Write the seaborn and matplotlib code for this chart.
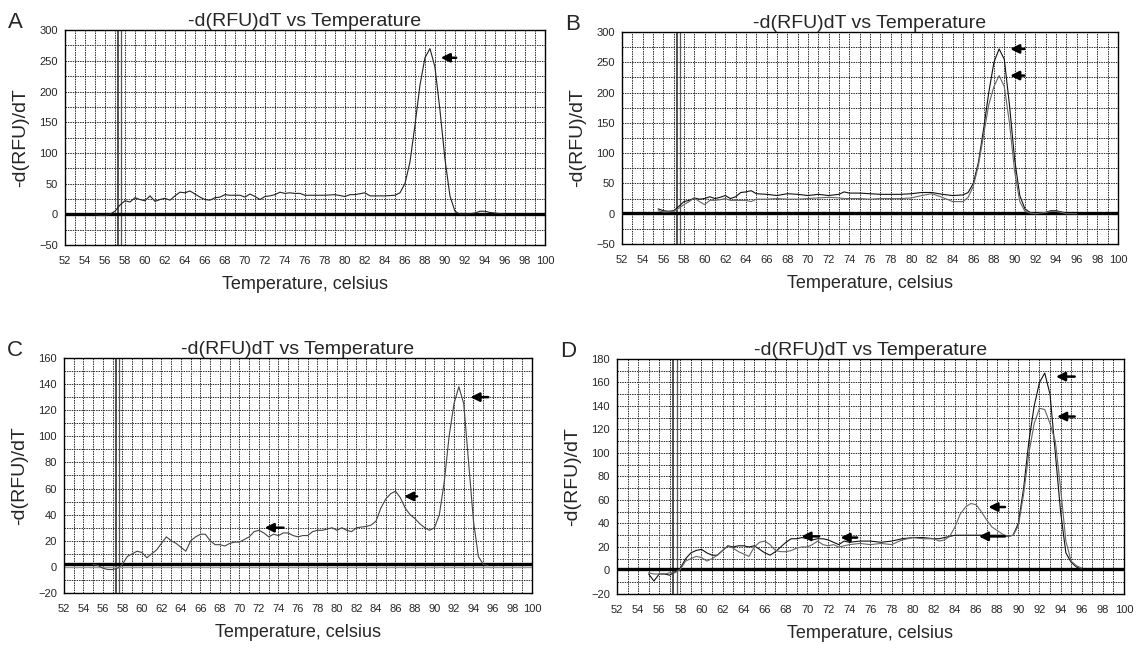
import matplotlib
matplotlib.use("Agg")
import matplotlib.pyplot as plt
import seaborn as sns
import pandas as pd
import numpy as np

# ---- data ----
temp_a = [55, 55.5, 56, 56.5, 57, 57.5, 58, 58.5, 59, 59.5, 60, 60.5, 61, 61.5, 62, 62.5, 63, 63.5, 64, 64.5,
          65, 65.5, 66, 66.5, 67, 67.5, 68, 68.5, 69, 69.5, 70, 70.5, 71, 71.5, 72, 72.5, 73, 73.5, 74, 74.5,
          75, 75.5, 76, 77, 78, 79, 80, 80.5, 81, 82, 82.5, 83, 84, 85, 85.5, 86, 86.5, 87, 87.5, 88,
          88.5, 89, 89.5, 90, 90.5, 91, 91.5, 92, 93, 93.5, 94, 94.5, 95, 96]
rfu_a = [0, -2, -2, 0, 5, 15, 22, 20, 27, 24, 22, 30, 21, 24, 26, 23, 30, 36, 35, 38,
         33, 28, 24, 23, 27, 28, 32, 31, 31, 31, 28, 33, 29, 24, 29, 30, 32, 36, 34, 35,
         34, 34, 31, 31, 31, 32, 29, 32, 32, 35, 30, 30, 30, 31, 35, 50, 85, 145, 210, 255,
         270, 240, 170, 90, 30, 5, 0, 0, 2, 5, 5, 3, 2, 0]

temp_b = [55.5, 56, 56.5, 57, 57.5, 58, 58.5, 59, 59.5, 60, 60.5, 61, 61.5, 62, 62.5, 63, 63.5, 64, 64.5, 65,
          66, 67, 68, 69, 70, 71, 72, 73, 73.5, 74, 75, 76, 77, 78, 79, 80, 81, 82, 83, 84,
          85, 85.5, 86, 86.5, 87, 87.5, 88, 88.5, 89, 89.5, 90, 90.5, 91, 91.5, 92, 93, 93.5, 94, 94.5, 95, 96]
rfu_b1 = [8, 5, 4, 5, 12, 20, 22, 26, 24, 25, 28, 25, 27, 30, 25, 28, 35, 36, 38, 33,
          32, 30, 33, 32, 30, 32, 30, 32, 36, 34, 34, 33, 32, 32, 32, 33, 35, 35, 32, 30,
          31, 35, 50, 85, 140, 200, 250, 272, 255, 180, 90, 30, 8, 2, 1, 2, 5, 5, 3, 1, 0]
rfu_b2 = [5, 3, 3, 4, 9, 15, 20, 26, 20, 15, 22, 22, 23, 25, 22, 22, 22, 22, 20, 24,
          24, 25, 24, 24, 25, 26, 27, 26, 25, 25, 25, 24, 25, 25, 25, 26, 30, 33, 27, 20,
          20, 27, 45, 80, 130, 180, 210, 228, 210, 150, 70, 20, 4, 1, 0, 2, 4, 4, 2, 0, 0]

temp_c = [55, 55.5, 56, 56.5, 57, 57.5, 58, 58.5, 59, 59.5, 60, 60.5, 61, 61.5, 62, 62.5, 63, 63.5, 64, 64.5,
          65, 65.5, 66, 66.5, 67, 67.5, 68, 68.5, 69, 69.5, 70, 70.5, 71, 71.5, 72, 72.5, 73, 73.5, 74, 74.5,
          75, 75.5, 76, 76.5, 77, 77.5, 78, 78.5, 79, 79.5, 80, 80.5, 81, 81.5, 82, 83, 83.5, 84, 84.5, 85,
          85.5, 86, 86.5, 87, 87.5, 88, 88.5, 89, 89.5, 90, 90.5, 91, 91.5, 92, 92.5, 93, 93.5, 94, 94.5, 95, 95.5]
rfu_c = [2, 1, -1, -2, -2, -1, 2, 8, 10, 12, 11, 7, 10, 13, 18, 23, 20, 18, 15, 12,
         20, 23, 25, 25, 20, 17, 17, 16, 18, 19, 19, 21, 23, 27, 28, 26, 23, 25, 24, 26,
         26, 24, 23, 24, 24, 27, 28, 28, 29, 30, 28, 30, 28, 27, 30, 31, 32, 35, 45, 52,
         56, 58, 53, 45, 40, 37, 33, 30, 28, 30, 40, 65, 100, 125, 138, 125, 80, 35, 8, 2, 1]

temp_d = [55, 55.5, 56, 56.5, 57, 57.5, 58, 58.5, 59, 59.5, 60, 60.5, 61, 61.5, 62, 62.5, 63, 63.5, 64, 64.5,
          65, 65.5, 66, 66.5, 67, 67.5, 68, 68.5, 69, 69.5, 70, 70.5, 71, 71.5, 72, 72.5, 73, 73.5, 74, 75,
          76, 77, 78, 79, 80, 81, 82, 82.5, 83, 83.5, 84, 84.5, 85, 85.5, 86, 86.5, 87, 87.5, 88, 88.5,
          89, 89.5, 90, 90.5, 91, 91.5, 92, 92.5, 93, 93.5, 94, 94.5, 95, 95.5, 96]
rfu_d1 = [-3, -9, -3, -3, -4, -1, 2, 10, 15, 17, 18, 15, 13, 13, 17, 21, 20, 21, 21, 20,
          21, 18, 15, 13, 16, 20, 24, 27, 27, 28, 27, 26, 27, 27, 26, 24, 22, 25, 24, 25,
          25, 24, 25, 27, 28, 28, 27, 27, 28, 29, 30, 30, 30, 30, 30, 30, 30, 30, 30, 30,
          29, 30, 40, 70, 110, 140, 160, 168, 150, 100, 50, 15, 7, 3, 1]
rfu_d2 = [-2, -3, -3, -3, -2, -2, 1, 8, 10, 12, 11, 8, 10, 13, 17, 21, 19, 16, 14, 12,
          20, 24, 25, 22, 17, 16, 16, 17, 19, 20, 20, 22, 25, 22, 21, 22, 20, 21, 22, 23,
          22, 23, 22, 26, 28, 27, 27, 25, 26, 29, 37, 48, 54, 57, 56, 50, 43, 37, 34, 31,
          29, 30, 38, 65, 100, 125, 138, 137, 125, 110, 70, 25, 8, 4, 2]

# no-template baseline (thick black line) and marker line
baseline_x = [52, 100]
baseline_y = {"A": 1, "B": 1, "C": 2, "D": 1}
marker_x = 57.5

# arrows: (tail_x, head_x, y)
arrows = {
    "A": [(91.4, 89.3, 255)],
    "B": [(91.2, 89.3, 272), (91.2, 89.3, 228)],
    "C": [(95.8, 93.4, 130), (88.5, 86.6, 54), (74.8, 72.3, 30)],
    "D": [(95.6, 93.3, 165), (95.6, 93.4, 131), (89.0, 86.9, 54), (89.0, 86.0, 29),
          (71.4, 69.2, 29), (75.0, 72.9, 28)],
}

ylims = {"A": (-50, 300, 50), "B": (-50, 300, 50), "C": (-20, 160, 20), "D": (-20, 180, 20)}

sns.set_style("white")
plt.rcParams["font.family"] = ["Liberation Sans", "DejaVu Sans"]

fig = plt.figure(figsize=(11.36, 6.51), dpi=100)
rects = {
    "A": [0.0572, 0.6237, 0.4225, 0.330],
    "B": [0.5475, 0.6252, 0.4366, 0.3257],
    "C": [0.0563, 0.0891, 0.4120, 0.361],
    "D": [0.5431, 0.0876, 0.4463, 0.361],
}

curves = {
    "A": [(temp_a, rfu_a, "#222222")],
    "B": [(temp_b, rfu_b1, "#111111"), (temp_b, rfu_b2, "#666666")],
    "C": [(temp_c, rfu_c, "#444444")],
    "D": [(temp_d, rfu_d1, "#111111"), (temp_d, rfu_d2, "#666666")],
}

for key, rect in rects.items():
    ax = fig.add_axes(rect)
    lo, hi, step = ylims[key]
    ax.set_xlim(52, 100)
    ax.set_ylim(lo, hi)

    # grid: every degree, every half y-step
    for xv in np.arange(53, 100, 1):
        ax.axvline(xv, color="#2a2a2a", lw=0.7, ls=(0, (1.5, 1)), zorder=0)
    for yv in np.arange(lo + step / 2, hi, step / 2):
        ax.axhline(yv, color="#2a2a2a", lw=0.7, ls=(0, (1.5, 1)), zorder=0)

    ax.axvline(marker_x - 0.15, color="#222222", lw=1.1, zorder=1)
    ax.axvline(marker_x + 0.15, color="#555555", lw=0.9, zorder=1)

    sns.lineplot(x=baseline_x, y=[baseline_y[key]] * 2, ax=ax, color="black", lw=2.4, zorder=2)
    if key == "C":
        sns.lineplot(x=baseline_x, y=[0, 0], ax=ax, color="#999999", lw=1.0, zorder=2)

    for tx, ty, col in curves[key]:
        df = pd.DataFrame({"T": tx, "v": ty})
        sns.lineplot(data=df, x="T", y="v", ax=ax, color=col, lw=0.8, zorder=3)

    for tail, head, yv in arrows[key]:
        ax.annotate("", xy=(head, yv), xytext=(tail, yv),
                    arrowprops=dict(arrowstyle="-|>", color="black", lw=1.8, mutation_scale=13))

    ax.set_xticks(np.arange(52, 101, 2))
    ax.set_yticks(np.arange(lo, hi + 1, step))
    ax.tick_params(axis="x", length=0, labelsize=8, pad=8)
    ax.tick_params(axis="y", length=0, labelsize=8, pad=5)
    for sp in ax.spines.values():
        sp.set_color("black")
        sp.set_linewidth(1.0)

    ax.set_title("-d(RFU)dT vs Temperature", fontsize=14, pad=3)
    ax.set_xlabel("Temperature, celsius", fontsize=13, labelpad=7)
    ax.set_ylabel("-d(RFU)/dT", fontsize=14, labelpad=7)

    fig.text(rect[0] - 0.05, rect[1] + rect[3] + 0.012, key, fontsize=16, ha="left", va="center")

fig.savefig("out.png", dpi=100)
